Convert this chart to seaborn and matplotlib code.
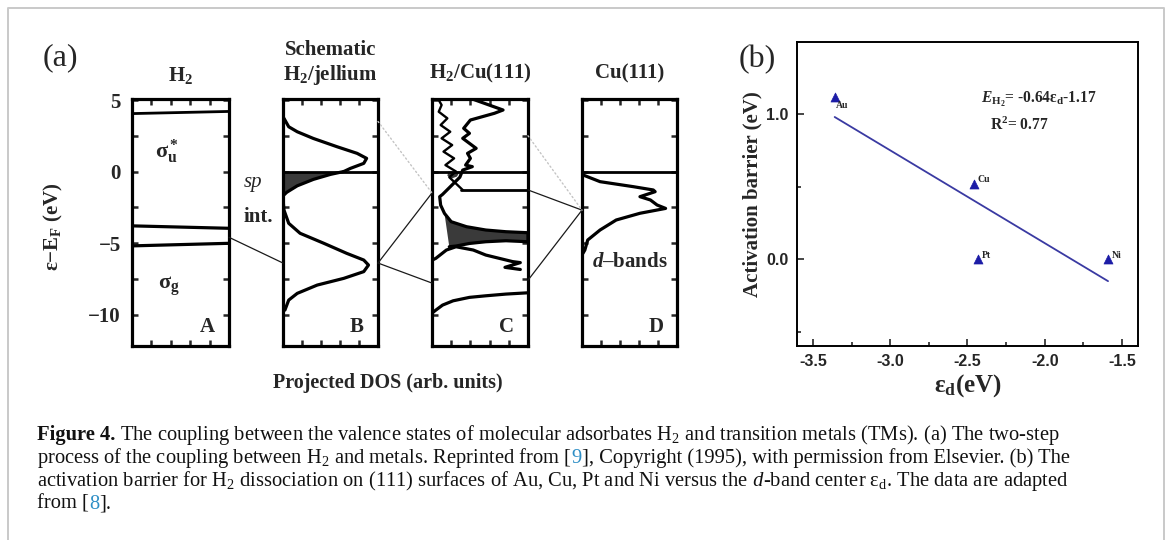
import matplotlib
matplotlib.use("Agg")
import matplotlib.pyplot as plt
import seaborn as sns
from matplotlib.patches import ConnectionPatch
from matplotlib.ticker import MultipleLocator, FixedLocator

sns.set_style("white")
plt.rcParams["font.family"] = ["Liberation Serif", "DejaVu Serif"]
plt.rcParams["mathtext.fontset"] = "custom"
plt.rcParams["mathtext.rm"] = "Liberation Serif"
plt.rcParams["mathtext.it"] = "Liberation Serif:italic"
plt.rcParams["mathtext.bf"] = "Liberation Serif:bold"
plt.rcParams["mathtext.bfit"] = "Liberation Serif:italic:bold"
plt.rcParams["mathtext.default"] = "regular"

# ---------------- data: panel (a), projected DOS (x = DOS fraction, y = energy in eV)
E_LIM = (-12.2, 5.07)
E_TICKS = [-10, -5, 0, 5]
E_TICK_LABELS = ["\u221210", "\u22125", "0", "5"]

# A: isolated H2 levels
a_sigma_u_x, a_sigma_u_e = [0.0, 1.0], [4.05, 4.2]
a_upper_x, a_upper_e = [0.0, 1.0], [-3.8, -3.97]
a_sigma_g_x, a_sigma_g_e = [0.0, 1.0], [-5.2, -5.02]

# B: schematic H2/jellium
b_anti_x = [0.01, 0.06, 0.15, 0.32, 0.57, 0.78, 0.88, 0.85, 0.71, 0.64]
b_anti_e = [3.72, 3.13, 2.78, 2.31, 1.73, 1.27, 0.92, 0.57, 0.22, 0.0]
b_occ_x = [0.64, 0.50, 0.32, 0.15, 0.04, 0.0]
b_occ_e = [0.0, -0.2, -0.55, -1.0, -1.45, -1.7]
b_bond_x = [0.0, 0.01, 0.06, 0.18, 0.43, 0.67, 0.85, 0.90, 0.85, 0.64, 0.36, 0.15, 0.06, 0.02]
b_bond_e = [-1.9, -2.69, -3.62, -4.32, -5.02, -5.72, -6.19, -6.54, -7.0, -7.47, -7.94, -8.52, -8.99, -9.69]

# C: H2/Cu(111)
c_thin_x = [0.07, 0.10, 0.07, 0.16, 0.09, 0.19, 0.10, 0.21, 0.12, 0.23, 0.14, 0.25, 0.18, 0.32]
c_thin_e = [5.0, 4.65, 4.18, 3.72, 3.25, 2.78, 2.32, 1.85, 1.39, 0.92, 0.45, 0.0, -0.4, -1.29]
c_thick_x = [0.42, 0.74, 0.65, 0.40, 0.33, 0.39, 0.32, 0.46, 0.37, 0.40, 0.35, 0.42, 0.32, 0.29, 0.11, 0.08,
             0.09, 0.13, 0.20, 0.36, 0.56, 0.77, 1.0]
c_thick_e = [5.07, 4.30, 4.07, 3.60, 3.02, 2.67, 2.32, 1.62, 1.27, 0.92, 0.45, 0.34, 0.10, -0.4, -1.6, -1.76,
             -2.35, -2.93, -3.51, -3.86, -4.09, -4.21, -4.28]
c_blob_x = [0.17, 0.29, 0.26, 0.20, 0.16]
c_blob_e = [0.0, 0.0, -0.35, -0.5, -0.3]
c_fill_x = [0.13, 0.20, 0.36, 0.56, 0.77, 1.0, 1.0, 0.77, 0.56, 0.39, 0.25, 0.18]
c_fill_e = [-2.93, -3.51, -3.86, -4.09, -4.21, -4.28, -4.91, -4.84, -4.91, -5.03, -5.21, -5.26]
c_low_x = [0.0, 0.04, 0.15, 0.25, 0.43, 0.56, 0.70, 0.84, 0.92, 0.76, 0.92]
c_low_e = [-6.2, -6.07, -5.49, -5.26, -5.49, -5.84, -6.07, -6.3, -6.37, -6.7, -6.85]
c_band_x = [0.0, 0.04, 0.11, 0.22, 0.39, 0.56, 0.77, 1.0]
c_band_e = [-9.9, -9.69, -9.34, -9.04, -8.8, -8.69, -8.57, -8.48]
c_level_x, c_level_e = [0.30, 1.0], [-1.29, -1.29]

# D: Cu(111) d-bands
d_x = [0.01, 0.19, 0.54, 0.75, 0.77, 0.61, 0.72, 0.79, 0.88, 0.61, 0.36, 0.19, 0.06, 0.03, 0.01]
d_e = [-0.24, -0.71, -1.06, -1.29, -1.41, -1.76, -1.99, -2.34, -2.58, -2.92, -3.39, -4.09, -4.79, -5.49, -5.72]

# ---------------- data: panel (b), activation barrier vs d-band centre
metals = ["Au", "Cu", "Pt", "Ni"]
eps_d = [-3.36, -2.46, -2.43, -1.59]
barrier = [1.12, 0.52, 0.0, 0.0]
fit_slope, fit_intercept = -0.64, -1.17
fit_x = [eps_d[0], eps_d[-1]]
fit_y = [fit_slope * x + fit_intercept for x in fit_x]
b_xticks = [-3.5, -3.0, -2.5, -2.0, -1.5]
b_xtick_labels = ["-3.5", "-3.0", "-2.5", "-2.0", "-1.5"]
b_yticks = [0.0, 1.0]
b_ytick_labels = ["0.0", "1.0"]

W, H = 1168, 540
fig = plt.figure(figsize=(W / 100, H / 100), dpi=100)


def px_axes(x0, y0, x1, y1, **kw):
    return fig.add_axes([x0 / W, 1 - y1 / H, (x1 - x0) / W, (y1 - y0) / H], **kw)


# page frame + caption layer
bg = fig.add_axes([0, 0, 1, 1], zorder=-5)
bg.set_xlim(0, W)
bg.set_ylim(H, 0)
bg.axis("off")
bg.plot([8, 8, 1164, 1164], [H + 5, 8, 8, H + 5], color="#c9c9c9", lw=1.4, clip_on=False)

# ---------------- panel (a)
ax_a = px_axes(132, 99, 229, 346)
ax_b = px_axes(283, 99, 378, 346)
ax_c = px_axes(432, 99, 528, 346)
ax_d = px_axes(582, 99, 677, 346)
dos_axes = [ax_a, ax_b, ax_c, ax_d]

LW = 2.3
for ax in dos_axes:
    ax.set_xlim(0, 1)
    ax.set_ylim(*E_LIM)
    for s in ax.spines.values():
        s.set_linewidth(2.3)
        s.set_color("black")
    ax.yaxis.set_major_locator(FixedLocator(E_TICKS))
    ax.yaxis.set_minor_locator(MultipleLocator(2.5))
    ax.xaxis.set_major_locator(FixedLocator([0.2, 0.4, 0.6, 0.8]))
    ax.tick_params(which="both", direction="in", top=True, right=True, bottom=True, left=True,
                   length=4, width=1.8, labelbottom=False, labelleft=False)
    ax.set_facecolor("white")

ax_a.tick_params(axis="y", labelleft=True, pad=8)
ax_a.set_yticks(E_TICKS, E_TICK_LABELS, fontsize=15, fontweight="bold")


def curve(ax, xs, es, lw=LW, **kw):
    sns.lineplot(x=xs, y=es, sort=False, estimator=None, ax=ax, color="black",
                 lw=lw, legend=False, **kw)


# A
curve(ax_a, a_sigma_u_x, a_sigma_u_e, lw=2.0)
curve(ax_a, a_upper_x, a_upper_e)
curve(ax_a, a_sigma_g_x, a_sigma_g_e)
ax_a.text(0.36, 1.4, "σ$_u^*$", fontsize=16, fontweight="bold", ha="center", va="center")
ax_a.text(0.38, -8.0, "σ$_g$", fontsize=16, fontweight="bold", ha="center", va="center")

# B
curve(ax_b, b_anti_x, b_anti_e)
ax_b.fill_betweenx(b_occ_e, 0, b_occ_x, color="#3a3a3a", lw=0)
curve(ax_b, b_occ_x, b_occ_e)
curve(ax_b, b_bond_x, b_bond_e)
ax_b.axhline(0, color="black", lw=2.0)
ax_b.text(-0.32, -0.8, "sp", fontsize=15, fontstyle="italic", ha="center", va="center", clip_on=False)
ax_b.text(-0.26, -3.15, "int.", fontsize=15, fontweight="bold", ha="center", va="center", clip_on=False)

# C
curve(ax_c, c_thin_x, c_thin_e, lw=1.7)
curve(ax_c, c_thick_x, c_thick_e)
ax_c.fill(c_blob_x, c_blob_e, color="#3a3a3a", lw=0)
ax_c.fill(c_fill_x, c_fill_e, color="#3a3a3a", lw=0)
curve(ax_c, c_fill_x[5:], c_fill_e[5:])
curve(ax_c, c_low_x, c_low_e)
curve(ax_c, c_band_x, c_band_e)
curve(ax_c, c_level_x, c_level_e, lw=2.0)
ax_c.axhline(0, color="black", lw=2.0)

# D
curve(ax_d, d_x, d_e)
ax_d.axhline(0, color="black", lw=2.0)
ax_d.text(0.5, -6.3, "$\\mathbfit{d}$\u2013bands", fontsize=15, fontweight="bold", ha="center", va="center")

for ax, letter in zip(dos_axes, "ABCD"):
    ax.text(0.78, -10.9, letter, fontsize=15, fontweight="bold", ha="center", va="center")

title_kw = dict(fontsize=15, fontweight="bold", ha="center", va="center", clip_on=False)
ax_a.text(0.5, 1.097, "H$_2$", transform=ax_a.transAxes, **title_kw)
ax_b.text(0.5, 1.198, "Schematic", transform=ax_b.transAxes, **title_kw)
ax_b.text(0.5, 1.097, "H$_2$/jellium", transform=ax_b.transAxes, **title_kw)
ax_c.text(0.5, 1.105, "H$_2$/Cu(111)", transform=ax_c.transAxes, **title_kw)
ax_d.text(0.5, 1.105, "Cu(111)", transform=ax_d.transAxes, **title_kw)

bg.text(53, 227, "ε\u2212E$_F$ (eV)", rotation=90, fontsize=15, fontweight="bold", ha="center", va="center")
bg.text(388, 383, "Projected DOS (arb. units)", fontsize=14.5, fontweight="bold", ha="center", va="center")
bg.text(60, 58, "(a)", fontsize=23, ha="center", va="center")
bg.text(757, 60, "(b)", fontsize=23, ha="center", va="center")

# connecting lines between the DOS panels
link_kw = dict(color="#1a1a1a", lw=0.9)
faint_kw = dict(color="#c4c4c4", lw=1.0, linestyle=(0, (1, 2)))
links = [
    (ax_a, (1.0, -4.6), ax_b, (0.0, -6.4), link_kw),
    (ax_b, (1.0, -6.4), ax_c, (0.0, -1.5), link_kw),
    (ax_b, (1.0, -6.4), ax_c, (0.0, -7.8), link_kw),
    (ax_c, (1.0, -1.29), ax_d, (0.0, -2.7), link_kw),
    (ax_c, (1.0, -7.6), ax_d, (0.0, -2.7), link_kw),
    (ax_b, (1.0, 3.5), ax_c, (0.0, -1.5), faint_kw),
    (ax_c, (1.0, 2.5), ax_d, (0.0, -2.7), faint_kw),
]
for axA, pA, axB, pB, kw in links:
    con = ConnectionPatch(xyA=pA, coordsA=axA.transData, xyB=pB, coordsB=axB.transData, **kw)
    fig.add_artist(con)

# ---------------- panel (b)
axr = px_axes(797, 42, 1138, 346)
blue = "#1c1ca6"
sns.lineplot(x=fit_x, y=fit_y, ax=axr, color="#3a3aa2", lw=1.3, legend=False)
sns.scatterplot(x=eps_d, y=barrier, ax=axr, marker="^", s=42, color=blue, edgecolor=blue,
                linewidth=0.5, legend=False, zorder=3)
axr.set_xlim(-3.604, -1.396)
axr.set_ylim(-0.6, 1.498)
for s in axr.spines.values():
    s.set_linewidth(1.4)
    s.set_color("black")
axr.set_xticks(b_xticks, b_xtick_labels, fontfamily="Liberation Sans", fontweight="bold", fontsize=11.5)
axr.set_yticks(b_yticks, b_ytick_labels, fontfamily="Liberation Sans", fontweight="bold", fontsize=11.5)
axr.xaxis.set_minor_locator(MultipleLocator(0.25))
axr.yaxis.set_minor_locator(FixedLocator([-0.5, 0.5]))
axr.tick_params(which="both", direction="in", top=False, right=False, bottom=True, left=True, width=1.2)
axr.tick_params(which="major", length=5, pad=6)
axr.tick_params(which="minor", length=3)
axr.set_xlabel("ε$_d$(eV)", fontsize=18, fontweight="bold", labelpad=2)
axr.set_ylabel("Activation barrier (eV)", fontsize=15, fontweight="bold", labelpad=3)

for name, x, y in zip(metals, eps_d, barrier):
    if name == "Au":
        axr.annotate(name, (x, y), xytext=(1, -3), textcoords="offset points", fontsize=7,
                     fontweight="bold", va="top", ha="left")
    else:
        axr.annotate(name, (x, y), xytext=(2.5, -0.5), textcoords="offset points", fontsize=7,
                     fontweight="bold", va="bottom", ha="left")

axr.text(-2.41, 1.10, "$\\mathbfit{E}_{H_2}$= -0.64ε$_d$-1.17", fontsize=11.2, fontweight="bold", va="center")
axr.text(-2.355, 0.92, "R$^2$= 0.77", fontsize=11.2, fontweight="bold", va="center")

# ---------------- caption
renderer = fig.canvas.get_renderer()
link_blue = "#2f8fc6"
caption = [
    [("Figure 4.", dict(fontweight="bold")),
     (" The coupling between the valence states of molecular adsorbates H$_2$ and transition metals (TMs). (a) The two-step", {})],
    [("process of the coupling between H$_2$ and metals. Reprinted from [", {}), ("9", dict(color=link_blue)),
     ("], Copyright (1995), with permission from Elsevier. (b) The", {})],
    [("activation barrier for H$_2$ dissociation on (111) surfaces of Au, Cu, Pt and Ni versus the", {}),
     (" d", dict(fontstyle="italic")), ("-band center ε$_d$. The data are adapted", {})],
    [("from [", {}), ("8", dict(color=link_blue)), ("].", {})],
]
base_y = 440
for i, runs in enumerate(caption):
    x = 37
    for s, kw in runs:
        style = dict(fontsize=14.8, color="#111111", va="baseline", ha="left")
        style.update(kw)
        t = bg.text(x, base_y + 23 * i, s, **style)
        x += t.get_window_extent(renderer).width

fig.savefig("out.png", dpi=100)
